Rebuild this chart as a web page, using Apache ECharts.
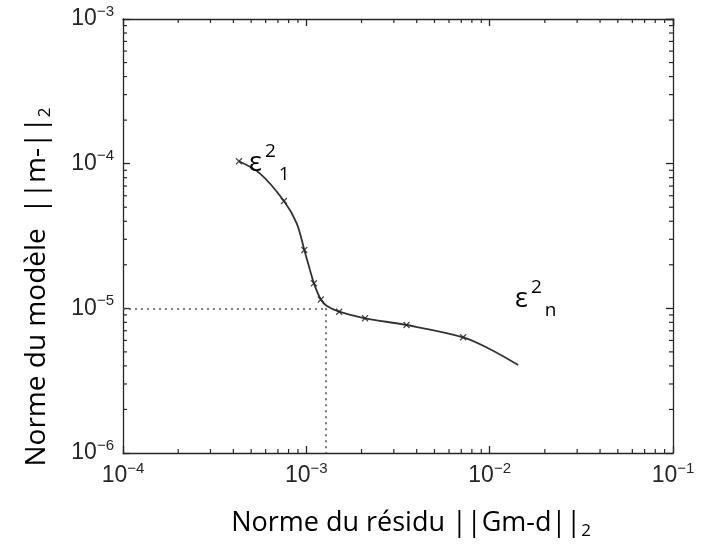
<!DOCTYPE html>
<html><head><meta charset="utf-8">
<script src="https://cdn.jsdelivr.net/npm/echarts@6/dist/echarts.min.js"></script>
<style>html,body{margin:0;padding:0;background:#fff}#c{width:702px;height:548px}</style>
</head><body><div id="c"></div>
<script>
// ---- data ----
const xTickExponents = [-4, -3, -2, -1];
const yTickExponents = [-6, -5, -4, -3];
const minorMultipliers = [2, 3, 4, 5, 6, 7, 8, 9];
// L-curve (residual norm, model norm)
const curveResidual = [4.29e-4, 5.58e-4, 7.55e-4, 8.86e-4, 9.75e-4, 1.047e-3, 1.10e-3, 1.20e-3, 1.29e-3, 1.51e-3, 2.09e-3, 3.52e-3, 7.17e-3, 1.0e-2, 1.43e-2];
const curveModel    = [1.04e-4, 8.57e-5, 5.52e-5, 3.87e-5, 2.53e-5, 1.84e-5, 1.49e-5, 1.15e-5, 1.04e-5, 9.48e-6, 8.53e-6, 7.67e-6, 6.31e-6, 5.24e-6, 4.06e-6];
// computed regularisation values (x marks)
const markResidual = [4.29e-4, 7.55e-4, 9.75e-4, 1.10e-3, 1.20e-3, 1.51e-3, 2.09e-3, 3.52e-3, 7.17e-3];
const markModel    = [1.04e-4, 5.52e-5, 2.53e-5, 1.49e-5, 1.15e-5, 9.48e-6, 8.53e-6, 7.67e-6, 6.31e-6];
// optimal corner
const cornerResidual = 1.28e-3;
const cornerModel = 1.0e-5;

// ---- build ----
const xMin = Math.pow(10, xTickExponents[0]), xMax = Math.pow(10, xTickExponents[xTickExponents.length - 1]);
const yMin = Math.pow(10, yTickExponents[0]), yMax = Math.pow(10, yTickExponents[yTickExponents.length - 1]);
const xMinor = [], yMinor = [];
xTickExponents.slice(0, -1).forEach(e => minorMultipliers.forEach(m => xMinor.push([m * Math.pow(10, e), yMin])));
yTickExponents.slice(0, -1).forEach(e => minorMultipliers.forEach(m => yMinor.push([xMin, m * Math.pow(10, e)])));

const ink = '#262626';
const rich = {
  b: { fontFamily: 'Liberation Sans', fontSize: 23, lineHeight: 30, color: ink },
  s: { fontFamily: 'Liberation Sans', fontSize: 15, lineHeight: 15, verticalAlign: 'top', color: ink }
};
function fmt(v) {
  const e = Math.round(Math.log10(v));
  return '{b|10}{s|' + String(e).replace('-', '\u2212') + '}';
}
const baseAxis = {
  type: 'log', logBase: 10,
  axisLine: { show: true, onZero: false, lineStyle: { color: ink, width: 1.3 } },
  axisTick: { show: true, inside: true, length: 7, lineStyle: { color: ink, width: 1.3 } },
  splitLine: { show: false }, minorTick: { show: false }
};
const chart = echarts.init(document.getElementById('c'), null, { renderer: 'canvas' });
chart.setOption({
  backgroundColor: '#fff',
  animation: false,
  grid: { left: 123, right: 29, top: 19, bottom: 95, containLabel: false },
  xAxis: [
    Object.assign({}, baseAxis, { position: 'bottom', min: xMin, max: xMax,
      axisLabel: { formatter: fmt, rich: rich, margin: 8, fontSize: 23, fontFamily: 'Liberation Sans', color: ink } }),
    Object.assign({}, baseAxis, { position: 'top', min: xMin, max: xMax, axisLabel: { show: false } })
  ],
  yAxis: [
    Object.assign({}, baseAxis, { position: 'left', min: yMin, max: yMax,
      axisLabel: { formatter: fmt, rich: rich, margin: 9, fontSize: 23, fontFamily: 'Liberation Sans', color: ink } }),
    Object.assign({}, baseAxis, { position: 'right', min: yMin, max: yMax, axisLabel: { show: false } })
  ],
  series: [
    {
      type: 'line', data: curveResidual.map((x, i) => [x, curveModel[i]]),
      smooth: 0.35, showSymbol: false, symbol: 'none',
      lineStyle: { color: '#333', width: 1.8 },
      markLine: {
        silent: true, symbol: 'none', label: { show: false },
        lineStyle: { type: [2, 4], color: '#555', width: 1.6 },
        data: [
          [{ coord: [xMin, cornerModel] }, { coord: [cornerResidual, cornerModel] }],
          [{ coord: [cornerResidual, cornerModel] }, { coord: [cornerResidual, yMin] }]
        ]
      },
      z: 3
    },
    {
      type: 'scatter', data: markResidual.map((x, i) => [x, markModel[i]]),
      symbol: 'path://M0,0L10,10M10,0L0,10', symbolSize: 6,
      itemStyle: { color: 'none', borderColor: '#222', borderWidth: 1.3 }, z: 4
    },
    {
      type: 'custom', data: xMinor, encode: { x: 0, y: 1 }, silent: true, clip: false,
      renderItem: function (params, api) {
        const v = api.value(0);
        const b = api.coord([v, yMin]), t = api.coord([v, yMax]);
        const st = { stroke: ink, lineWidth: 1.2 };
        return { type: 'group', children: [
          { type: 'line', shape: { x1: b[0], y1: b[1], x2: b[0], y2: b[1] - 4 }, style: st },
          { type: 'line', shape: { x1: t[0], y1: t[1], x2: t[0], y2: t[1] + 4 }, style: st }
        ] };
      }
    },
    {
      type: 'custom', data: yMinor, encode: { x: 0, y: 1 }, silent: true, clip: false,
      renderItem: function (params, api) {
        const v = api.value(1);
        const l = api.coord([xMin, v]), r = api.coord([xMax, v]);
        const st = { stroke: ink, lineWidth: 1.2 };
        return { type: 'group', children: [
          { type: 'line', shape: { x1: l[0], y1: l[1], x2: l[0] + 4, y2: l[1] }, style: st },
          { type: 'line', shape: { x1: r[0], y1: r[1], x2: r[0] - 4, y2: r[1] }, style: st }
        ] };
      }
    }
  ],
  graphic: [
    { type: 'text', x: 411, y: 523, z: 10,
      style: { text: 'Norme du résidu ||Gm-d||{sub|2}', fontFamily: 'Open Sans', fontSize: 27, fill: '#000',
        align: 'center', verticalAlign: 'middle', lineHeight: 34,
        rich: { sub: { fontFamily: 'Open Sans', fontSize: 17, verticalAlign: 'bottom', lineHeight: 17, fill: '#000' } } } },
    { type: 'text', x: 37, y: 287, rotation: Math.PI / 2, z: 10,
      style: { text: 'Norme du modèle  ||m-||{sub|2}', fontFamily: 'Open Sans', fontSize: 28, fill: '#000',
        align: 'center', verticalAlign: 'middle', lineHeight: 34,
        rich: { sub: { fontFamily: 'Open Sans', fontSize: 17, verticalAlign: 'bottom', lineHeight: 17, fill: '#000' } } } },
    { type: 'text', x: 249, y: 142, z: 10,
      style: { text: 'ε{sup|2}{sub|1}', fontFamily: 'Open Sans', fontSize: 27, lineHeight: 42, fill: '#000',
        rich: { sup: { fontFamily: 'Open Sans', fontSize: 19, verticalAlign: 'top', lineHeight: 19, padding: [0, 0, 0, 3], fill: '#000' },
                sub: { fontFamily: 'Open Sans', fontSize: 19, verticalAlign: 'bottom', lineHeight: 19, padding: [0, 0, 0, 3], fill: '#000' } } } },
    { type: 'text', x: 515, y: 278, z: 10,
      style: { text: 'ε{sup|2}{sub|n}', fontFamily: 'Open Sans', fontSize: 27, lineHeight: 42, fill: '#000',
        rich: { sup: { fontFamily: 'Open Sans', fontSize: 19, verticalAlign: 'top', lineHeight: 19, padding: [0, 0, 0, 3], fill: '#000' },
                sub: { fontFamily: 'Open Sans', fontSize: 19, verticalAlign: 'bottom', lineHeight: 19, padding: [0, 0, 0, 3], fill: '#000' } } } }
  ]
});
</script></body></html>
